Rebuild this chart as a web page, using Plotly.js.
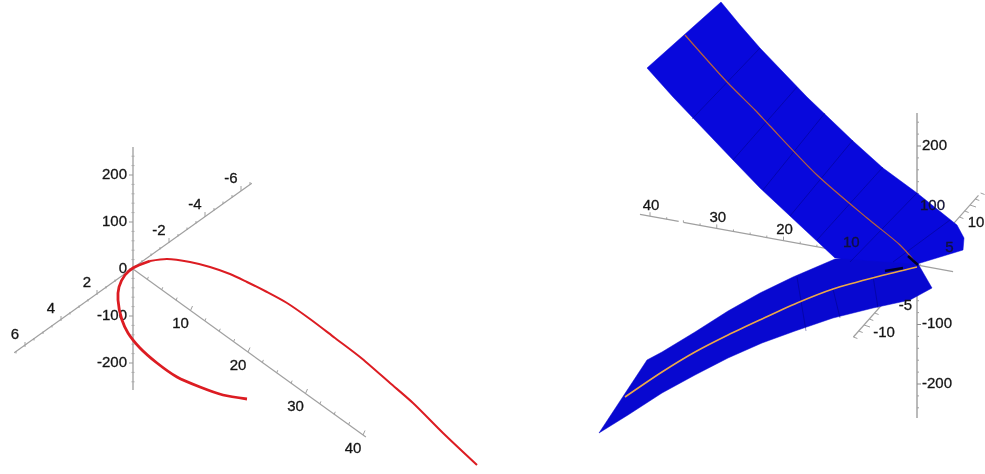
<!DOCTYPE html>
<html>
<head>
<meta charset="utf-8">
<script src="https://cdn.plot.ly/plotly-3.0.1.min.js"></script>
<style>html,body{margin:0;padding:0;background:#fff}#chart{width:985px;height:474px;filter:blur(0.55px)}#chart text{stroke:#1a1a1a;stroke-width:0.3px}</style>
</head>
<body>
<div id="chart"></div>
<script>
// Left panel: red space curve (far end, apex, near end)
const redX = [477,443,413,390,360,335,310,287,267,247,230,210,190,167,150,133,125,119,118,122,128,140,157,177,200,223,247];
const redY = [465,433,403,383,357,338,319,303,292,282,274,267,262,259,261,268,275,287,300,320,333,348,363,377,387,395,399];
const redApex = 14;

// Right panel: blue surface strips
const upperStripX = [721,647,673,703,733,760,787,813,835,917,963,964,957,917,883,853,822,807,783,760,740,721];
const upperStripY = [2,68,97,129,160,188,213,238,258,264,250,238,225,193,168,141,112,97,72,48,25,2];
const lowerStripX = [835,793,760,728,695,662,647,623,599,628,662,695,728,762,795,833,873,910,932,917,860];
const lowerStripY = [259,277,293,311,332,352,360,397,433,415,393,375,358,343,331,318,308,300,288,262,255];

// Right panel: curves lying on the surface
const upperCurveX = [685,727,755,770,817,867,900,915,917];
const upperCurveY = [35,82,110,126,175,218,245,262,265];
const lowerCurveX = [625,662,695,728,762,797,833,880,917];
const lowerCurveY = [397,372,352,335,319,303,289,276,267];

// Right panel: mesh lines on the surface (pairs)
const meshX = [760,692,null,797,733,null,825,763,null,853,790,null,883,817,null,917,850,null,950,893,null,797,806,null,833,840,null,873,878];
const meshY = [48,119,null,87,160,null,113,190,null,140,216,null,167,240,null,193,262,null,220,262,null,277,331,null,289,318,null,276,308];

// Dark patches around the origin of the right panel
const darkX = [885,903,null,908,918];
const darkY = [271,268,null,256,265];

// Axis definitions
const zTicks = [-200,-100,0,100,200];
const zMinor = [-240,-220,-180,-160,-140,-120,-80,-60,-40,-20,20,40,60,80,120,140,160,180,220,240];
const leftDepthTicks = [-6,-4,-2,2,4,6];
const leftDepthMinor = [-6.5,-5.5,-5,-4.5,-3.5,-3,-2.5,-1.5,-1,-0.5,0.5,1,1.5,2.5,3,3.5,4.5,5,5.5,6.5];
const longTicks = [10,20,30,40];
const longMinor = [2.5,5,7.5,12.5,15,17.5,22.5,25,27.5,32.5,35,37.5];
const rightDepthTicks = [-10,-5,5,10];
const rightDepthMinor = [-12,-11,-9,-8,8,9,11,12];

const O_L = {x:133,y:269}, O_R = {x:917,y:265};
const dark = '#141414', axisGrey = '#a0a0a0';
const traces = [];

function line(x, y, color, width, shape){
  traces.push({type:'scatter',mode:'lines',x,y,hoverinfo:'skip',showlegend:false,
    line:{color,width,shape:shape||'linear',smoothing:0.8},connectgaps:false});
}
function area(x, y, color){
  traces.push({type:'scatter',mode:'lines',x,y,fill:'toself',fillcolor:color,
    line:{color,width:0.5},hoverinfo:'skip',showlegend:false});
}
function text(x, y, t, pos, color){
  traces.push({type:'scatter',mode:'text',x,y,text:t,textposition:pos,hoverinfo:'skip',showlegend:false,
    textfont:{family:'Liberation Sans, Arial, sans-serif',size:15,color}});
}
function ticks(o, ux, uy, vals, dx, dy, color){
  const xs=[], ys=[];
  vals.forEach(v=>{ const px=o.x+ux*v, py=o.y+uy*v;
    xs.push(px, px+dx, null); ys.push(py, py+dy, null); });
  line(xs, ys, color, 1);
}
function labelPos(o, ux, uy, vals, ox, oy){
  return { x: vals.map(v=>o.x+ux*v+ox), y: vals.map(v=>o.y+uy*v+oy), t: vals.map(String) };
}

/* ---------- Left panel axes ---------- */
line([O_L.x,O_L.x],[147,390],'#959595',1.2);
ticks({x:O_L.x-1.5,y:O_L.y},0,-0.47,zMinor,3,0,'#aaaaaa');
ticks({x:O_L.x-4,y:O_L.y},0,-0.47,zTicks,4,0,'#999999');
line([O_L.x-18*6.6,O_L.x+18*6.6],[O_L.y+13*6.6-2,O_L.y-13*6.6],axisGrey,1.2);
ticks(O_L,-18,13,leftDepthMinor,0,-2.5,axisGrey);
ticks(O_L,-18,13,leftDepthTicks,0,-5,axisGrey);
line([O_L.x,O_L.x+5.75*40.5],[O_L.y,O_L.y+4.15*40.5],axisGrey,1.2);
ticks(O_L,5.75,4.15,longMinor,1,-2.5,axisGrey);
ticks(O_L,5.75,4.15,longTicks,2,-4.5,axisGrey);

/* ---------- Left panel labels ---------- */
const lz = labelPos(O_L,0,-0.47,zTicks,-6,0);
text(lz.x,lz.y,lz.t,'middle left',dark);
const ld = labelPos(O_L,-18,13,leftDepthTicks,-10,-12);
text(ld.x,ld.y,ld.t,'middle center',dark);
const ll = labelPos(O_L,5.75,4.15,longTicks,-10,14);
text(ll.x,ll.y,ll.t,'middle center',dark);

/* ---------- Red curve ---------- */
line(redX.slice(0,redApex+1), redY.slice(0,redApex+1), '#dc1c22', 2, 'spline');
line(redX.slice(redApex), redY.slice(redApex), '#dc1c22', 2.8, 'spline');

/* ---------- Right panel axes (below the surface) ---------- */
line([O_R.x,O_R.x],[113,418],'#8c8c8c',1.2);
ticks({x:O_R.x,y:O_R.y},0,-0.595,zMinor,2,0,'#a0a0a0');
ticks({x:O_R.x,y:O_R.y},0,-0.595,zTicks,4,0,'#8c8c8c');
const longEnd = 41.5, longGapA = 35.7, longGapB = 35.0;
line([O_R.x+6.675*5.4,O_R.x-6.675*longGapB,null,O_R.x-6.675*longGapA,O_R.x-6.675*longEnd],
     [O_R.y+1.22*5.4,O_R.y-1.22*longGapB,null,O_R.y-1.22*longGapA,O_R.y-1.22*longEnd],axisGrey,1.2);
ticks(O_R,-6.675,-1.22,longMinor,0,-2,axisGrey);
ticks(O_R,-6.675,-1.22,longTicks,0,-4,axisGrey);
line([O_R.x-5.3*12,O_R.x+5.3*11.6],[O_R.y+6*12,O_R.y-6*11.6],axisGrey,1.2);
ticks(O_R,5.3,-6,rightDepthMinor,4,1.5,axisGrey);
ticks(O_R,5.3,-6,rightDepthTicks,6,2,axisGrey);

/* ---------- Blue surface ---------- */
area(lowerStripX, lowerStripY, '#0808d0');
area(upperStripX, upperStripY, '#0808dc');
line(meshX, meshY, 'rgba(0,0,110,0.4)', 1);
line(upperCurveX, upperCurveY, '#b8623c', 1.2, 'spline');
line(lowerCurveX, lowerCurveY, '#eca848', 1.6, 'spline');
line(darkX, darkY, '#000028', 2.5);

/* ---------- Right panel labels ---------- */
const rz = labelPos(O_R,0,-0.595,[-200,-100,200],5,0);
text(rz.x,rz.y,rz.t,'middle right',dark);
const rz100 = labelPos(O_R,0,-0.595,[100],3,1);
text(rz100.x,rz100.y,rz100.t,'middle right','#0c0c40');
const rl = labelPos(O_R,-6.675,-1.22,[20,30,40],1,-10);
text(rl.x,rl.y,rl.t,'middle center',dark);
const rl10 = labelPos(O_R,-6.675,-1.22,[10],1,-10);
text(rl10.x,rl10.y,rl10.t,'middle center','#0c0c50');
const rdA = labelPos(O_R,5.3,-6,[-10],20,8);
text(rdA.x,rdA.y,rdA.t,'middle center',dark);
const rdB = labelPos(O_R,5.3,-6,[-5],15,11);
text(rdB.x,rdB.y,rdB.t,'middle center',dark);
const rdC = labelPos(O_R,5.3,-6,[5],6,13);
text(rdC.x,rdC.y,rdC.t,'middle center','#0c0c50');
const rdD = labelPos(O_R,5.3,-6,[10],6,18);
text(rdD.x,rdD.y,rdD.t,'middle center',dark);

Plotly.newPlot('chart', traces, {
  width:985, height:474, margin:{l:0,r:0,t:0,b:0},
  paper_bgcolor:'#ffffff', plot_bgcolor:'#ffffff', showlegend:false,
  xaxis:{range:[0,985],visible:false,fixedrange:true},
  yaxis:{range:[474,0],visible:false,fixedrange:true}
}, {displayModeBar:false, staticPlot:true});
</script>
</body>
</html>
